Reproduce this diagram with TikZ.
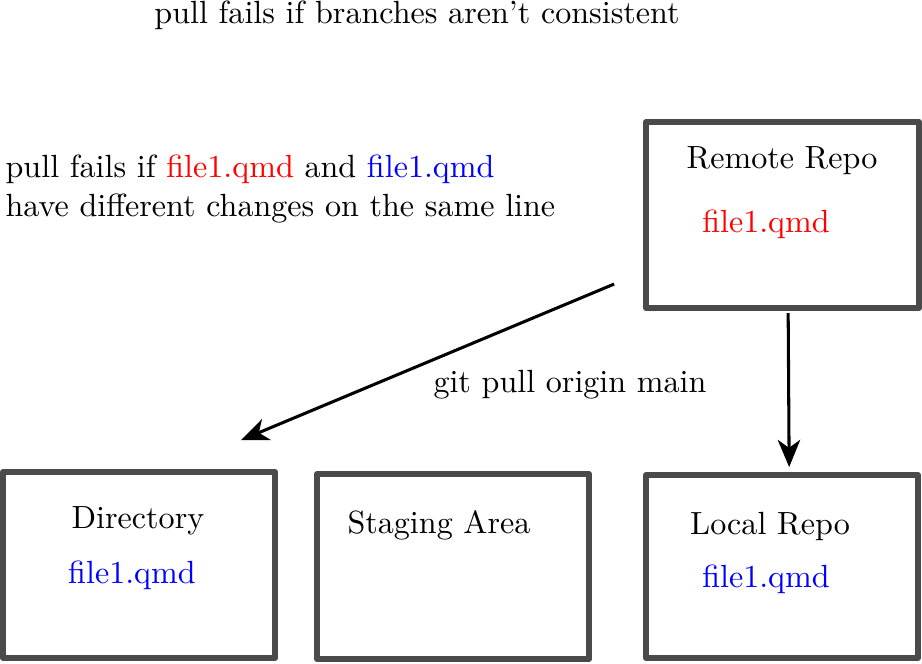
\documentclass[tikz,border=0pt]{standalone}
\usetikzlibrary{arrows.meta}
\begin{document}
\begin{tikzpicture}[scale=1.095,
		repobox/.style={draw=black!71, line width=1.9pt, line join=round},
		pullarrow/.style={-{Stealth[length=8.5pt, width=7pt, inset=2.5pt]}, black, line width=0.95pt}]
			\useasboundingbox (0,0) rectangle (9.22,-6.63);
			\node[black] (title) at (4.17, -0.15) {pull fails if branches aren't consistent};
			\node[black, align=left, anchor=west, inner sep=0pt] (note) at (0.05, -1.89) {pull fails if \textcolor{red}{file1.qmd} and \textcolor{blue}{file1.qmd}\\have different changes on the same line};
			
			\draw [repobox] (6.46, -1.22) rectangle (9.19, -3.08);
			\node[black] (remotelbl) at (7.82, -1.61) {Remote Repo};
			\node[red] (remotefile) at (7.66, -2.24) {file1.qmd};
			
			\draw [repobox] (0.03, -4.72) rectangle (2.75, -6.58);
			\node[black] (dirlbl) at (1.38, -5.21) {Directory};
			\node[blue] (dirfile) at (1.32, -5.75) {file1.qmd};
			
			\draw [repobox] (3.17, -4.74) rectangle (5.89, -6.59);
			\node[black] (staginglbl) at (4.39, -5.25) {Staging Area};
			
			\draw [repobox] (6.46, -4.75) rectangle (9.18, -6.58);
			\node[black] (locallbl) at (7.70, -5.26) {Local Repo};
			\node[blue] (localfile) at (7.66, -5.79) {file1.qmd};
			
			\coordinate (pullstart) at (6.14, -2.84);
			\coordinate (pullend) at (2.41, -4.40);
			\coordinate (fetchstart) at (7.88, -3.13);
			\coordinate (fetchend) at (7.89, -4.67);
			\draw [pullarrow] (pullstart) -- (pullend);
			\draw [pullarrow] (fetchstart) -- (fetchend);
			\node[black] (pulllbl) at (5.70, -3.85) {git pull origin main};
		
		\end{tikzpicture}
\end{document}
